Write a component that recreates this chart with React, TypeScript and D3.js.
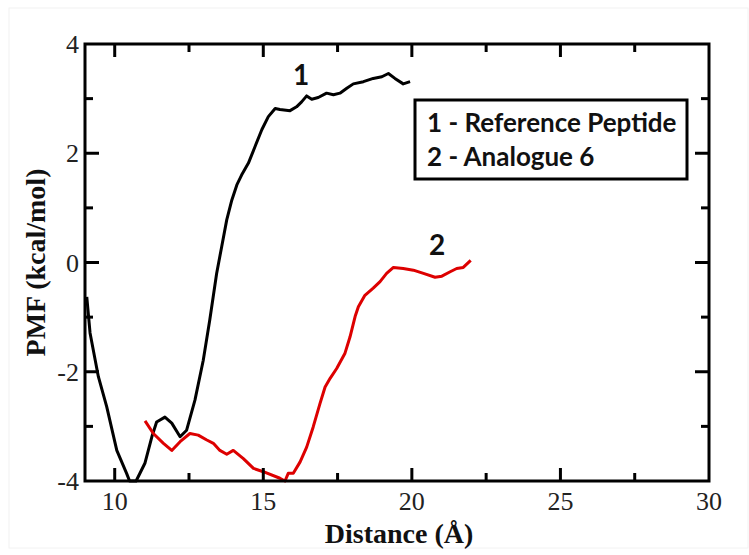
import React from 'react';
import * as d3 from 'd3';

// PMF profiles (distance in Å, PMF in kcal/mol)
const refX = [9.06, 9.17, 9.45, 9.73, 10.07, 10.4, 10.5, 10.72, 11.02, 11.25, 11.41, 11.69, 11.92, 12.2, 12.42, 12.7, 12.98, 13.2, 13.43, 13.6, 13.77, 13.94, 14.11, 14.27, 14.5, 14.72, 14.95, 15.17, 15.4, 15.56, 15.9, 16.12, 16.29, 16.46, 16.63, 16.85, 17.13, 17.36, 17.58, 17.81, 18.03, 18.37, 18.7, 18.99, 19.21, 19.43, 19.71, 19.94];
const refY = [-0.63, -1.29, -2.09, -2.64, -3.44, -3.86, -4.0, -4.0, -3.67, -3.19, -2.92, -2.83, -2.94, -3.19, -3.07, -2.52, -1.79, -1.05, -0.2, 0.29, 0.78, 1.14, 1.42, 1.6, 1.82, 2.12, 2.43, 2.67, 2.82, 2.8, 2.78, 2.85, 2.94, 3.05, 2.99, 3.02, 3.1, 3.07, 3.1, 3.19, 3.27, 3.31, 3.37, 3.4, 3.46, 3.37, 3.27, 3.31];

const anaX = [11.02, 11.3, 11.64, 11.92, 12.2, 12.53, 12.81, 13.1, 13.32, 13.54, 13.77, 13.99, 14.33, 14.67, 15.0, 15.56, 15.73, 15.84, 16.01, 16.24, 16.46, 16.68, 16.91, 17.08, 17.25, 17.47, 17.75, 17.92, 18.09, 18.2, 18.42, 18.7, 18.93, 19.15, 19.38, 19.71, 20.05, 20.39, 20.78, 21.01, 21.29, 21.51, 21.73, 21.98];
const anaY = [-2.9, -3.13, -3.31, -3.44, -3.28, -3.13, -3.16, -3.25, -3.31, -3.44, -3.51, -3.44, -3.59, -3.77, -3.83, -3.95, -4.0, -3.86, -3.86, -3.65, -3.38, -3.01, -2.58, -2.28, -2.12, -1.94, -1.66, -1.36, -0.99, -0.81, -0.6, -0.47, -0.35, -0.2, -0.09, -0.11, -0.14, -0.2, -0.27, -0.25, -0.17, -0.11, -0.09, 0.04];

const xMajor = [10, 15, 20, 25, 30];
const xMinor = [12.5, 17.5, 22.5, 27.5];
const yMajor = [-4, -2, 0, 2, 4];
const yMinor = [-3, -1, 1, 3];
const legendLines = ['1 - Reference Peptide', '2 - Analogue 6'];

const W = 749, H = 555;
const left = 85, right = 709, top = 44, bottom = 481;

export default function App() {
  const x = d3.scaleLinear().domain([9, 30]).range([left, right]);
  const y = d3.scaleLinear().domain([-4, 4]).range([bottom, top]);

  const line = d3.line<[number, number]>()
    .x(d => x(d[0]))
    .y(d => y(d[1]));

  const refPts = refX.map((v, i) => [v, refY[i]] as [number, number]);
  const anaPts = anaX.map((v, i) => [v, anaY[i]] as [number, number]);

  const serif = '"Liberation Serif", "DejaVu Serif", serif';
  const sans = 'Lato, "Open Sans", sans-serif';

  return (
    <svg width={W} height={H} style={{ position: 'absolute', left: 0, top: 0, background: '#fff' }}>
      <rect x={9} y={8} width={739} height={540} fill="none" stroke="#f2f2f2" strokeWidth={1} />

      <g clipPath="url(#plotclip)">
        <defs>
          <clipPath id="plotclip">
            <rect x={left} y={top - 2} width={right - left} height={bottom - top + 4} />
          </clipPath>
        </defs>
        <path d={line(refPts) || ''} fill="none" stroke="#000" strokeWidth={3} strokeLinejoin="round" />
        <path d={line(anaPts) || ''} fill="none" stroke="#dd0000" strokeWidth={3} strokeLinejoin="round" />
      </g>

      {/* frame */}
      <rect x={left} y={top} width={right - left} height={bottom - top} fill="none" stroke="#000" strokeWidth={3} />

      {/* x ticks, bottom and top, pointing inward */}
      {xMajor.filter(v => v < 30).map(v => (
        <g key={'xM' + v}>
          <line x1={x(v)} x2={x(v)} y1={bottom} y2={bottom - 13} stroke="#000" strokeWidth={3} />
          <line x1={x(v)} x2={x(v)} y1={top} y2={top + 13} stroke="#000" strokeWidth={3} />
        </g>
      ))}
      {xMinor.map(v => (
        <g key={'xm' + v}>
          <line x1={x(v)} x2={x(v)} y1={bottom} y2={bottom - 8} stroke="#000" strokeWidth={3} />
          <line x1={x(v)} x2={x(v)} y1={top} y2={top + 8} stroke="#000" strokeWidth={3} />
        </g>
      ))}
      {/* y ticks, left and right */}
      {yMajor.filter(v => v > -4 && v < 4).map(v => (
        <g key={'yM' + v}>
          <line x1={left} x2={left + 14} y1={y(v)} y2={y(v)} stroke="#000" strokeWidth={3} />
          <line x1={right} x2={right - 14} y1={y(v)} y2={y(v)} stroke="#000" strokeWidth={3} />
        </g>
      ))}
      {yMinor.map(v => (
        <g key={'ym' + v}>
          <line x1={left} x2={left + 8} y1={y(v)} y2={y(v)} stroke="#000" strokeWidth={3} />
          <line x1={right} x2={right - 8} y1={y(v)} y2={y(v)} stroke="#000" strokeWidth={3} />
        </g>
      ))}

      {/* tick labels */}
      {xMajor.map(v => (
        <text key={'xl' + v} x={x(v)} y={bottom + 29} textAnchor="middle" fontFamily={serif} fontSize={26} fill="#222">{v}</text>
      ))}
      {yMajor.map(v => (
        <text key={'yl' + v} x={left - 6} y={y(v) + 9} textAnchor="end" fontFamily={serif} fontSize={26} fill="#222">{v}</text>
      ))}

      {/* axis titles */}
      <text x={399} y={543} textAnchor="middle" fontFamily={serif} fontWeight="bold" fontSize={28} fill="#111">Distance (Å)</text>
      <text transform={`translate(45, ${y(0)}) rotate(-90)`} textAnchor="middle" fontFamily={serif} fontWeight="bold" fontSize={28} fill="#111">PMF (kcal/mol)</text>

      {/* curve labels */}
      <text x={301} y={85} textAnchor="middle" fontFamily={sans} fontWeight="bold" fontSize={28} fill="#111">1</text>
      <text x={437} y={255} textAnchor="middle" fontFamily={sans} fontWeight="bold" fontSize={28} fill="#111">2</text>

      {/* legend */}
      <rect x={415} y={100} width={272} height={79} fill="#fff" stroke="#000" strokeWidth={3} />
      {legendLines.map((t, i) => (
        <text key={t} x={427} y={132 + i * 34} fontFamily={sans} fontWeight="bold" fontSize={26} fill="#111">{t}</text>
      ))}
    </svg>
  );
}
